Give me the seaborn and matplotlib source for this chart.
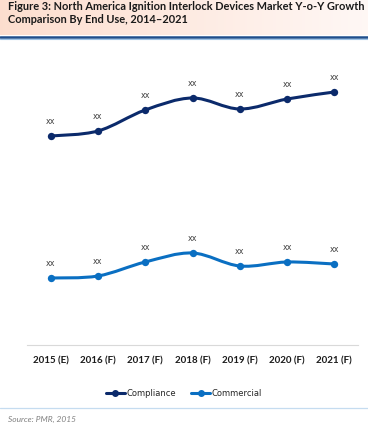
import numpy as np
import matplotlib
matplotlib.use("Agg")
import matplotlib.pyplot as plt
from matplotlib.path import Path
from matplotlib.patches import PathPatch
from matplotlib.lines import Line2D
import seaborn as sns

years = ["2015 (E)", "2016 (F)", "2017 (F)", "2018 (F)", "2019 (F)", "2020 (F)", "2021 (F)"]
compliance = [20.9, 21.4, 23.5, 24.7, 23.6, 24.6, 25.3]
commercial = [6.7, 6.9, 8.3, 9.2, 7.9, 8.3, 8.1]
point_labels = ["xx"] * 7

navy = "#0b2a6b"
blue = "#0a6fc2"

sns.set_theme(style="white")
plt.rcParams["font.family"] = ["Lato", "DejaVu Sans"]

fig = plt.figure(figsize=(3.68, 4.28), dpi=100)

# title band with peach gradient
band = fig.add_axes([0, 1 - 35 / 428, 1, 35 / 428])
grad = np.linspace(0, 1, 256).reshape(1, -1)
c0 = np.array([0.99, 0.87, 0.81])
c1 = np.array([1.0, 0.97, 0.96])
img = c0[None, None, :] * (1 - grad[..., None]) + c1[None, None, :] * grad[..., None]
band.imshow(img, aspect="auto", extent=[0, 1, 0, 1])
band.set_axis_off()
fig.text(0.022, 1 - 13 / 428, "Figure 3: North America Ignition Interlock Devices Market Y-o-Y Growth\nComparison By End Use, 2014\u20132021",
         fontsize=7.9, fontweight="bold", color="#1a1a1a", va="center", ha="left", linespacing=1.2)
fig.add_artist(Line2D([0, 1], [1 - 36.5 / 428] * 2, color="#1f4e8c", lw=1.8))
fig.add_artist(Line2D([0, 1], [1 - 38.5 / 428] * 2, color="#9dc3e6", lw=0.8))

ax = fig.add_axes([27 / 368, 1 - 345 / 428, 331 / 368, 300 / 428])
x = np.arange(len(years))


def smooth_path(xs, ys):
    # Excel-style smoothed line drawn as cubic Bezier segments
    pts = np.column_stack([xs, ys]).astype(float)
    verts = [pts[0]]
    codes = [Path.MOVETO]
    n = len(pts)
    for i in range(n - 1):
        p0 = pts[i - 1] if i > 0 else pts[i]
        p1 = pts[i]
        p2 = pts[i + 1]
        p3 = pts[i + 2] if i + 2 < n else pts[i + 1]
        verts += [p1 + (p2 - p0) / 6, p2 - (p3 - p1) / 6, p2]
        codes += [Path.CURVE4] * 3
    return Path(verts, codes)


for vals, col in [(compliance, navy), (commercial, blue)]:
    ax.add_patch(PathPatch(smooth_path(x, vals), fill=False, edgecolor=col, lw=2.2, capstyle="round"))
    sns.scatterplot(x=x, y=vals, ax=ax, color=col, s=28, edgecolor=col, linewidth=0, zorder=3)
    for xi, yi, lab in zip(x, vals, point_labels):
        ax.annotate(lab, (xi, yi), xytext=(0, 7), textcoords="offset points",
                    ha="center", va="bottom", fontsize=5.8, color="#404040", family="DejaVu Sans")

ax.set_xlim(-0.5, 6.5)
ax.set_ylim(0, 30)
ax.set_xticks(x)
ax.set_xticklabels(years, fontsize=7, fontweight="bold", color="#1a1a1a")
ax.set_yticks([])
ax.tick_params(axis="x", length=0, pad=8)
for s in ["top", "left", "right"]:
    ax.spines[s].set_visible(False)
ax.spines["bottom"].set_color("#d9d9d9")
ax.spines["bottom"].set_linewidth(0.8)
ax.grid(False)

handles = [Line2D([], [], color=navy, lw=2.2, marker="o", ms=4),
           Line2D([], [], color=blue, lw=2.2, marker="o", ms=4)]
fig.legend(handles, ["Compliance", "Commercial"], loc="center", bbox_to_anchor=(0.5, 1 - 393 / 428),
           ncol=2, frameon=False, handlelength=2.3, handletextpad=0.2, columnspacing=1.8,
           prop={"family": "DejaVu Sans", "size": 6})

fig.add_artist(Line2D([0, 1], [1 - 408 / 428] * 2, color="#c5dcf0", lw=0.9))
fig.text(0.022, 1 - 419 / 428, "Source: PMR, 2015", fontsize=6, style="italic", color="#808080",
         va="center", ha="left")

fig.savefig("out.png", dpi=100)
